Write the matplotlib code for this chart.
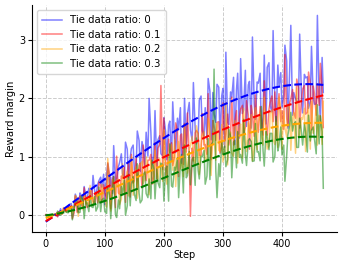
import numpy as np
import matplotlib
matplotlib.use("Agg")
from matplotlib import pyplot as plt

# main samples every 5 steps plus the samples in between (steps 3, 8, 13, ...)
steps = list(range(0, 475, 5))
mid_steps = list(range(3, 471, 5))

blue_vals = [0.00, -0.01, 0.01, 0.01, -0.02, 0.11, 0.09, 0.06, 0.18, 0.10,
             0.36, 0.06, 0.34, 0.49, 0.27, 0.38, 0.68, 0.33, 0.59, 0.48,
             0.18, 0.88, 0.65, 1.19, 0.60, 0.90, 0.71, 1.25, 0.65, 1.14,
             0.77, 1.44, 0.75, 1.15, 1.42, 2.00, 0.86, 1.79, 1.29, 1.05,
             1.67, 0.95, 1.61, 1.94, 1.07, 1.46, 0.89, 2.00, 1.73, 1.46,
             2.27, 1.22, 1.97, 1.45, 1.84, 2.34, 1.29, 1.73, 2.24, 1.30,
             2.17, 2.79, 1.55, 2.02, 1.21, 2.43, 2.68, 1.80, 1.52, 2.29,
             3.05, 1.64, 2.26, 1.45, 2.74, 2.53, 1.87, 3.16, 1.60, 2.21,
             1.85, 2.91, 1.49, 3.25, 2.10, 1.95, 3.10, 1.75, 2.35, 1.83,
             2.89, 1.90, 3.42, 1.62, 2.10]
blue_mid = [0.00, -0.01, 0.00, 0.02, 0.02, 0.03, 0.12, 0.14, 0.20, 0.16,
            0.28, 0.38, 0.20, 0.31, 0.46, 0.29, 0.40, 0.53, 0.65, 0.70,
            0.68, 0.47, 0.37, 0.58, 0.83, 1.05, 0.63, 1.13, 0.98, 1.20,
            0.81, 1.28, 1.26, 0.84, 1.01, 1.42, 1.02, 0.84, 1.36, 1.02,
            1.43, 1.54, 0.92, 1.31, 1.66, 1.84, 1.15, 1.14, 1.93, 1.27,
            1.48, 1.30, 2.04, 1.35, 1.30, 2.12, 2.10, 1.59, 2.19, 2.04,
            1.16, 1.59, 2.11, 2.36, 2.15, 1.32, 1.74, 2.48, 2.23, 1.49,
            1.91, 2.28, 2.43, 1.68, 1.56, 2.61, 1.77, 1.97, 2.57, 2.44,
            2.05, 2.64, 2.47, 1.71, 1.99, 1.95, 2.04, 2.41, 2.37, 1.95,
            2.02, 1.90, 2.02, 2.70]

red_vals = [0.01, 0.00, -0.01, 0.02, -0.03, 0.07, 0.12, 0.07, 0.12, -0.06,
            0.33, 0.26, 0.18, 0.47, 0.13, 0.40, 0.24, 0.39, 0.57, 0.24,
            0.38, 0.90, 0.11, 0.66, 1.01, 0.36, 0.63, 0.22, 0.89, 1.04,
            0.59, 0.46, 0.89, 1.20, 0.59, 0.94, 0.53, 1.24, 1.15, 2.22,
            1.66, 0.64, 1.07, 0.85, 1.58, 0.66, 1.39, 1.57, 1.75, -0.02,
            0.93, 1.45, 1.02, 1.74, 1.21, 2.08, 0.95, 1.52, 1.59, 1.06,
            1.92, 1.39, 1.20, 2.02, 1.59, 1.11, 1.82, 1.39, 1.96, 1.13,
            1.74, 2.06, 1.42, 1.64, 2.30, 1.37, 1.93, 1.60, 1.31, 2.08,
            1.79, 2.75, 1.52, 1.99, 1.76, 2.33, 1.49, 2.16, 1.73, 2.45,
            1.46, 2.08, 2.25, 2.60, 1.50]
red_mid = [-0.01, 0.00, 0.00, 0.02, 0.05, 0.02, 0.07, 0.13, 0.16, 0.04,
           0.05, 0.33, 0.13, 0.21, 0.16, 0.43, 0.21, 0.21, 0.50, 0.52,
           0.29, 0.70, 0.61, 0.13, 0.38, 0.67, 0.82, 0.73, 0.31, 0.55,
           0.97, 0.85, 0.47, 0.72, 0.94, 1.04, 0.67, 0.62, 1.21, 0.78,
           0.88, 1.30, 1.24, 1.00, 1.45, 1.36, 0.87, 1.08, 0.98, 1.15,
           1.41, 1.40, 1.03, 1.20, 1.04, 1.24, 1.62, 1.28, 1.60, 1.17,
           1.27, 1.73, 1.39, 1.20, 1.79, 1.69, 1.88, 1.51, 1.71, 1.88,
           1.35, 1.57, 1.86, 1.37, 1.56, 1.81, 2.04, 2.11, 1.86, 1.60,
           1.47, 1.66, 1.92, 2.15, 1.66, 2.18, 1.99, 2.22, 1.76, 2.25,
           2.21, 1.71, 1.88, 2.19]

orange_vals = [-0.01, 0.00, -0.01, 0.02, 0.05, 0.02, 0.13, 0.05, 0.11, 0.04,
               0.34, -0.02, 0.29, 0.38, 0.22, 0.51, 0.17, 0.39, 0.23, 0.53,
               0.27, 0.97, 0.07, 0.54, 0.60, 0.18, 0.88, 0.47, 0.33, 1.00,
               0.66, 0.29, 0.87, 0.54, 1.00, 0.35, 0.85, 1.11, 0.61, 0.80,
               1.46, 0.53, 1.10, 0.77, 0.49, 1.26, 0.98, 1.55, 0.72, 1.19,
               0.96, 1.53, 0.70, 1.37, 0.94, 1.66, 0.68, 1.30, 1.57, 1.09,
               0.91, 1.93, 1.34, 1.06, 1.62, 0.89, 1.56, 1.83, 1.09, 1.41,
               0.93, 1.84, 1.60, 1.36, 2.02, 1.13, 1.74, 1.30, 1.61, 2.02,
               1.13, 1.49, 1.90, 1.11, 1.76, 2.17, 1.33, 1.64, 1.09, 1.90,
               1.95, 1.47, 1.20, 1.70, 1.95]
orange_mid = [0.00, 0.00, 0.00, 0.01, 0.06, 0.02, 0.06, 0.12, 0.14, 0.10,
              0.29, 0.27, 0.09, 0.19, 0.17, 0.25, 0.37, 0.38, 0.24, 0.32,
              0.14, 0.30, 0.61, 0.35, 0.61, 0.27, 0.37, 0.75, 0.49, 0.34,
              0.83, 0.75, 0.92, 0.64, 0.81, 0.95, 0.54, 0.73, 0.97, 0.58,
              0.72, 0.98, 1.21, 1.29, 1.04, 0.79, 0.66, 0.86, 1.12, 1.35,
              0.86, 1.39, 1.20, 1.43, 0.97, 1.47, 1.43, 0.94, 1.11, 1.55,
              1.09, 0.86, 1.42, 1.01, 1.42, 1.50, 0.98, 1.29, 1.58, 1.72,
              1.14, 1.12, 1.76, 1.20, 1.36, 1.19, 1.80, 1.21, 1.16, 1.83,
              1.78, 1.34, 1.82, 1.68, 1.06, 1.34, 1.67, 1.83, 1.69, 1.13,
              1.40, 1.89, 1.71, 1.21]

green_vals = [0.00, -0.01, 0.01, 0.01, 0.07, 0.00, 0.06, 0.05, 0.12, -0.08,
              0.20, 0.04, 0.33, -0.06, 0.20, 0.32, 0.13, 0.07, 0.48, 0.26,
              0.06, 0.49, -0.06, 0.66, -0.04, 0.11, 0.36, 0.00, 0.70, 0.53,
              0.36, 0.88, 0.21, 0.69, 0.37, 0.62, 0.94, 0.28, 0.56, 0.89,
              0.24, 0.84, 1.22, 0.48, 0.77, 0.30, 1.04, 1.20, 0.68, 0.52,
              0.99, 1.32, 0.62, 1.00, 0.53, 1.31, 1.20, 2.50, 0.30, 0.66,
              1.04, 0.83, 1.48, 0.64, 1.28, 1.43, 1.04, 1.64, 0.85, 1.31,
              0.92, 1.57, 1.09, 1.86, 0.84, 1.34, 1.40, 0.91, 1.69, 1.20,
              1.03, 0.58, 1.37, 1.76, 1.56, 1.16, 1.66, 1.20, 1.44, 1.71,
              1.45, 1.31, 1.89, 1.70, 0.46]
green_mid = [0.01, 0.00, 0.00, 0.00, 0.00, 0.04, 0.08, 0.04, 0.11, 0.13,
             0.23, 0.05, 0.26, 0.25, 0.06, 0.14, 0.32, 0.14, 0.06, 0.29,
             0.03, 0.34, 0.40, 0.01, 0.26, 0.49, 0.60, 0.16, 0.16, 0.66,
             0.25, 0.38, 0.26, 0.74, 0.30, 0.28, 0.80, 0.80, 0.47, 0.86,
             0.79, 0.24, 0.50, 0.82, 0.98, 0.87, 0.38, 0.64, 1.09, 0.95,
             0.51, 0.77, 1.01, 1.11, 0.67, 0.61, 1.25, 0.75, 0.88, 1.25,
             1.18, 0.95, 1.35, 1.25, 0.81, 0.99, 0.89, 1.04, 1.28, 1.26,
             0.93, 1.08, 0.93, 1.10, 1.43, 1.12, 1.40, 1.01, 1.10, 1.51,
             1.20, 1.02, 1.54, 1.44, 1.60, 1.16, 1.42, 1.56, 1.08, 1.27,
             1.51, 1.05, 1.22, 1.43]

ratios = ["0", "0.1", "0.2", "0.3"]
colors = ["blue", "red", "orange", "green"]
series = [(blue_vals, blue_mid), (red_vals, red_mid),
          (orange_vals, orange_mid), (green_vals, green_mid)]

fig = plt.figure(figsize=(3.43, 2.68), dpi=100)
ax = fig.add_axes([0.093, 0.134, 0.89, 0.847])

x_all = np.array(steps + mid_steps)
order = np.argsort(x_all)
x_all = x_all[order]
xs = np.arange(0, 471)

curves = []
for (vals, mid), c, r in zip(series, colors, ratios):
    y_all = np.array(vals + mid)[order]
    curves.append(y_all)
    ax.plot(x_all, y_all, color=c, alpha=0.5, linewidth=1.1,
            label="Tie data ratio: " + r)

# polynomial trend for each run
for y_all, c in zip(curves, colors):
    coef = np.polyfit(x_all, y_all, 3)
    ax.plot(xs, np.polyval(coef, xs), color=c, linestyle="--", linewidth=1.5)

ax.set_xlabel("Step", fontsize=7, labelpad=1)
ax.set_ylabel("Reward margin", fontsize=7.3, labelpad=2)
ax.tick_params(labelsize=7, length=3, pad=2)
ax.set_xticks([0, 100, 200, 300, 400])
ax.set_yticks([0, 1, 2, 3])
ax.grid(True, linestyle="--", color="#cccccc", linewidth=0.7)
ax.spines["top"].set_visible(False)
ax.spines["right"].set_visible(False)
ax.legend(loc="upper left", fontsize=7.3, handlelength=2.0, borderpad=0.5,
          labelspacing=0.45, handletextpad=0.8)

fig.savefig("out.png", dpi=100)
